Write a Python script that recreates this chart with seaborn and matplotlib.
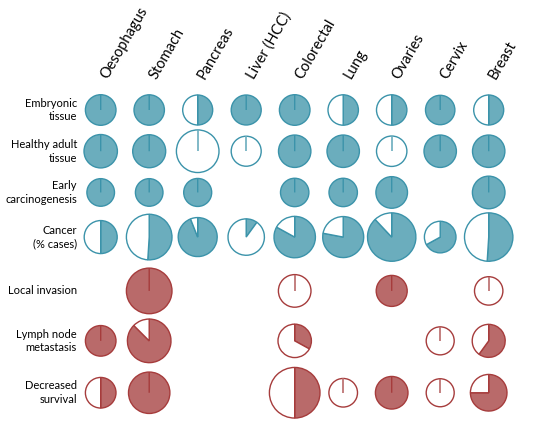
import matplotlib
matplotlib.use("Agg")
import matplotlib.pyplot as plt
import seaborn as sns

# -----------------------------
# Data
# -----------------------------
cancers = ['Oesophagus', 'Stomach', 'Pancreas', 'Liver (HCC)', 'Colorectal',
           'Lung', 'Ovaries', 'Cervix', 'Breast']
stages = ['Embryonic\ntissue', 'Healthy adult\ntissue', 'Early\ncarcinogenesis',
          'Cancer\n(% cases)', 'Local invasion', 'Lymph node\nmetastasis',
          'Decreased\nsurvival']

# filled fraction of each pie (None = no pie)
frac_embryonic = [1, 1, 0.5, 1, 1, 0.5, 0.5, 1, 0.5]
frac_healthy   = [1, 1, 0, 0, 1, 1, 0, 1, 1]
frac_early     = [1, 1, 1, None, 1, 1, 1, None, 1]
frac_cancer    = [0.5, 0.51, 0.94, 0.1, 0.83, 0.78, 0.88, 0.67, 0.51]
frac_invasion  = [None, 1, None, None, 0, None, 1, None, 0]
frac_lymph     = [1, 0.875, None, None, 0.33, None, None, 0, 0.6]
frac_survival  = [0.5, 1, None, None, 0.5, 0, 1, 0, 0.75]

# pie sizes (radius, px)
size_embryonic = [15.3, 15.2, 15, 15, 15.3, 15.2, 15.2, 14.7, 15]
size_healthy   = [16.7, 16.5, 21.3, 15, 16.2, 16.2, 15.2, 16.2, 16.2]
size_early     = [13.8, 13.8, 14, None, 14.2, 14.2, 15.8, None, 16.3]
size_cancer    = [16.5, 22.8, 19.5, 18.2, 20.7, 20.5, 24.2, 15.8, 24.2]
size_invasion  = [None, 22.8, None, None, 16.3, None, 15.5, None, 14.2]
size_lymph     = [15.3, 21.8, None, None, 16.7, None, None, 14, 16.5]
size_survival  = [15.3, 20.7, None, None, 25.3, 14.3, 16.3, 14, 18.3]

fracs = [frac_embryonic, frac_healthy, frac_early, frac_cancer,
         frac_invasion, frac_lymph, frac_survival]
sizes = [size_embryonic, size_healthy, size_early, size_cancer,
         size_invasion, size_lymph, size_survival]

# first four rows are "expression" (teal), last three "outcome" (red)
teal_fill, teal_edge = '#6badbd', '#3b93aa'
red_fill, red_edge = '#b96a6a', '#a63c3c'

# -----------------------------
# Layout
# -----------------------------
col_step = 48.5                      # px between columns
row_y = [0, 0.85, 1.70, 2.62, 3.73, 4.76, 5.83]

sns.set_theme(style='white')
plt.rcParams['font.family'] = ['Lato', 'DejaVu Sans']

fig = plt.figure(figsize=(5.5, 4.25), dpi=100)
ax = fig.add_axes([0, 0, 1, 1])

for r, (row_fracs, row_sizes) in enumerate(zip(fracs, sizes)):
    fill, edge = (teal_fill, teal_edge) if r < 4 else (red_fill, red_edge)
    for c, (f, s) in enumerate(zip(row_fracs, row_sizes)):
        if f is None:
            continue
        rad = s / col_step
        ax.pie([f, 1 - f], center=(c, -row_y[r]), radius=rad,
               startangle=90, counterclock=False, colors=[fill, 'white'],
               wedgeprops=dict(edgecolor=edge, linewidth=1.0))
        if f == 0:
            # empty pie still shows its (lighter) start line
            ax.plot([c, c], [-row_y[r], -row_y[r] + rad], color=fill, lw=1.2,
                    solid_capstyle='butt')

# column labels, rotated
for c, name in enumerate(cancers):
    ax.text(c + 0.08, 0.66, name, rotation=60, rotation_mode='anchor',
            ha='left', va='center', fontsize=10.5, color='black')

# row labels
for r, name in enumerate(stages):
    ax.text(-0.49, -row_y[r], name, ha='right', va='center',
            multialignment='right', fontsize=8.0, color='black',
            linespacing=1.3)

ax.set_aspect('equal')
ax.set_xlim(-100.7 / col_step, (550 - 100.7) / col_step)
ax.set_ylim(-(425 - 110) / col_step, 110 / col_step)
ax.set_axis_off()

fig.savefig('out.png', dpi=100)
